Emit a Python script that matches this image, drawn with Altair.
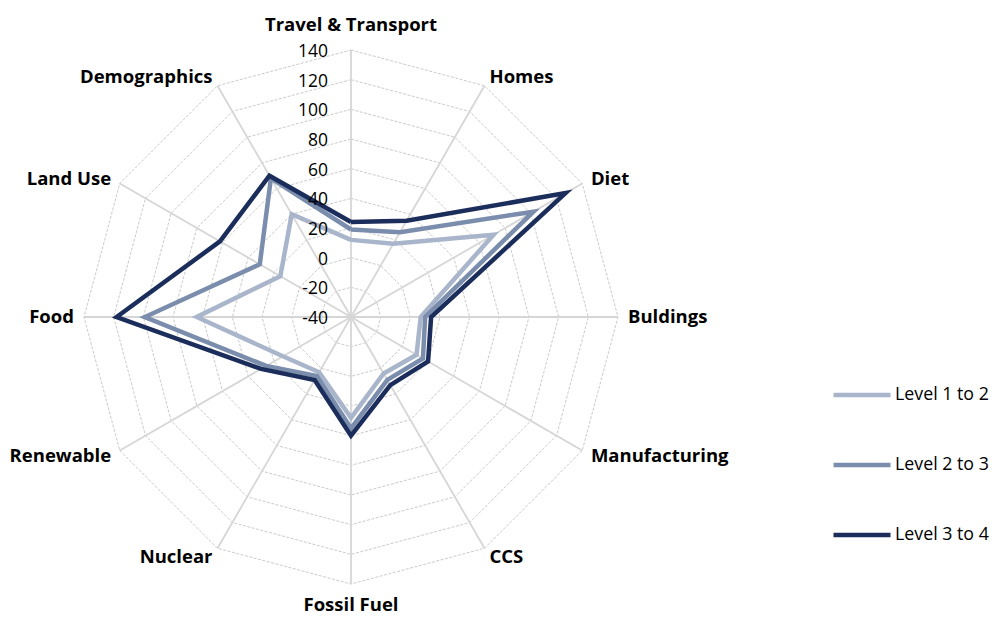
import math
import altair as alt
import pandas as pd

# ---------------- data ----------------
categories = ["Travel & Transport", "Homes", "Diet", "Buldings", "Manufacturing", "CCS",
              "Fossil Fuel", "Nuclear", "Renewable", "Food", "Land Use", "Demographics"]
level_1_to_2 = [12, 17, 71, 7, 11, 4, 28, 3, 13, 64, 15, 40]
level_2_to_3 = [19, 26, 102, 10, 16, 9, 35, 6, 26, 99, 31, 68]
level_3_to_4 = [24, 35, 127, 14, 20, 13, 40, 9, 30, 118, 62, 70]
series_names = ["Level 1 to 2", "Level 2 to 3", "Level 3 to 4"]
series_colors = ["#a9b5cb", "#7b8dad", "#1b2d5b"]
tick_values = [-40, -20, 0, 20, 40, 60, 80, 100, 120, 140]

N = len(categories)
AXIS_MIN = tick_values[0]
AXIS_MAX = tick_values[-1]
SPAN = AXIS_MAX - AXIS_MIN

# ---------------- layout ----------------
W, H = 982, 609
CX, CY = 343, 309          # centre of the radar inside the plot area (px)
RADIUS_PX = 267            # pixel radius of the outer ring
k = RADIUS_PX / SPAN       # px per unit
x_dom = [-CX / k, (W - CX) / k]
y_dom = [-(H - CY) / k, CY / k]
label_r = SPAN + 10 / k

# ---------------- tables ----------------
series_rows = []
for name, vals in zip(series_names, [level_1_to_2, level_2_to_3, level_3_to_4]):
    for i in range(N + 1):
        series_rows.append({"series": name, "idx": i, "order": i,
                            "value": vals[i % N], "category": categories[i % N]})
series_df = pd.DataFrame(series_rows)

ring_rows = []
for ring in tick_values[1:]:
    for i in range(N + 1):
        ring_rows.append({"ring": ring, "idx": i, "order": i, "value": ring})
ring_df = pd.DataFrame(ring_rows)

spoke_df = pd.DataFrame({"idx": list(range(N)), "value": [AXIS_MAX] * N})
label_df = pd.DataFrame({"idx": list(range(N)), "category": categories})
tick_df = pd.DataFrame({"value": tick_values, "label": [str(v) for v in tick_values]})

xs = alt.Scale(domain=x_dom, nice=False, zero=False)
ys = alt.Scale(domain=y_dom, nice=False, zero=False)
X = lambda f: alt.X(f, type="quantitative", scale=xs, axis=None)
Y = lambda f: alt.Y(f, type="quantitative", scale=ys, axis=None)

FONT = "Open Sans"


def polar(chart, rexpr):
    return chart.transform_calculate(
        theta=f"datum.idx * 2 * PI / {N}",
        r=rexpr,
    ).transform_calculate(
        px="datum.r * sin(datum.theta)",
        py="datum.r * cos(datum.theta)",
    )


rings = polar(alt.Chart(ring_df), f"datum.value - ({AXIS_MIN})").mark_line(
    color="#c4c4c4", strokeWidth=0.9, strokeDash=[3, 1.5]
).encode(x=X("px"), y=Y("py"), detail="ring:N", order="order:Q")

spokes = polar(alt.Chart(spoke_df), f"datum.value - ({AXIS_MIN})").mark_rule(
    color="#d6d6d6", strokeWidth=1.8
).encode(x=X("px"), y=Y("py"), x2=alt.datum(0), y2=alt.datum(0))

lines = polar(alt.Chart(series_df), f"datum.value - ({AXIS_MIN})").mark_line(
    strokeWidth=4.5, strokeJoin="miter"
).encode(
    x=X("px"), y=Y("py"), order="order:Q",
    color=alt.Color("series:N",
                    scale=alt.Scale(domain=series_names, range=series_colors),
                    legend=alt.Legend(title=None, orient="none", legendX=823, legendY=356,
                                      symbolType="stroke", symbolSize=3249,
                                      symbolStrokeWidth=4.5, labelFontSize=17.8,
                                      labelFont=FONT, labelColor="#000000",
                                      labelOffset=2, rowPadding=30)),
)

ticks = alt.Chart(tick_df).transform_calculate(
    py=f"datum.value - ({AXIS_MIN})", px="0"
).mark_text(align="right", baseline="middle", dx=-23, dy=2, font=FONT,
            fontSize=17.5, color="#000000").encode(x=X("px"), y=Y("py"), text="label:N")

lab_base = polar(alt.Chart(label_df), str(label_r)).transform_calculate(
    s="sin(datum.theta)"
)
lab_kw = dict(font=FONT, fontSize=18.5, fontWeight="bold", color="#000000", baseline="middle")
lab_left = lab_base.transform_filter("datum.s > 0.01").mark_text(align="left", **lab_kw).encode(
    x=X("px"), y=Y("py"), text="category:N")
lab_right = lab_base.transform_filter("datum.s < -0.01").mark_text(align="right", **lab_kw).encode(
    x=X("px"), y=Y("py"), text="category:N")
lab_top = lab_base.transform_filter(f"datum.idx == 0").mark_text(align="center", dy=-15, **lab_kw).encode(
    x=X("px"), y=Y("py"), text="category:N")
lab_bot = lab_base.transform_filter(f"datum.idx == {N // 2}").mark_text(align="center", dy=11, **lab_kw).encode(
    x=X("px"), y=Y("py"), text="category:N")

chart = alt.layer(rings, spokes, lines, ticks, lab_left, lab_right, lab_top, lab_bot).properties(
    width=W, height=H, padding=0, autosize=alt.AutoSizeParams(type="none")
).configure_view(stroke=None)

chart.save("out.html", embed_options={"renderer": "svg", "actions": False})
